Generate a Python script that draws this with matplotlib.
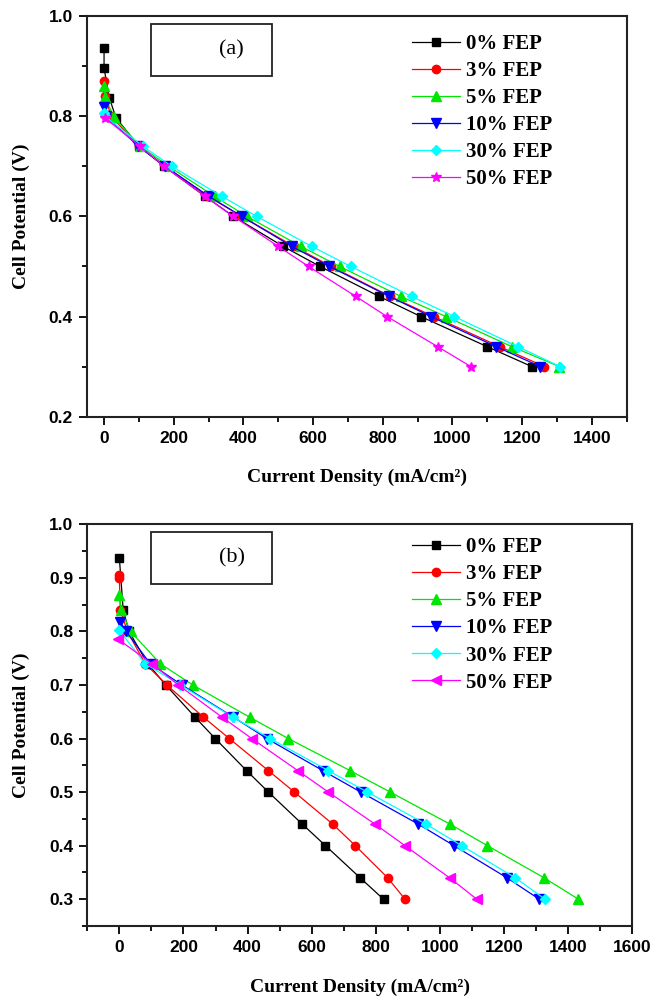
import matplotlib
matplotlib.use("Agg")
import matplotlib.pyplot as plt
from matplotlib.patches import Rectangle
from matplotlib.ticker import MultipleLocator

# legend text, colours and markers shared by both panels
labels = ["0% FEP", "3% FEP", "5% FEP", "10% FEP", "30% FEP", "50% FEP"]
colors = ["#000000", "#ff0000", "#00e600", "#0000ff", "#00ffff", "#ff00ff"]
markers_a = ["s", "o", "^", "v", "D", "*"]
markers_b = ["s", "o", "^", "v", "D", "<"]

# ---- panel (a): current density (mA/cm2) and cell potential (V)
a_i_0 = [0, 0, 15, 34, 100, 172, 290, 371, 514, 620, 790, 909, 1099, 1228]
a_v_0 = [0.936, 0.896, 0.837, 0.797, 0.74, 0.70, 0.64, 0.60, 0.54, 0.50, 0.44, 0.40, 0.34, 0.30]
a_i_3 = [0, 3, 20, 100, 175, 298, 395, 545, 652, 822, 946, 1135, 1264]
a_v_3 = [0.87, 0.84, 0.80, 0.74, 0.70, 0.64, 0.60, 0.54, 0.50, 0.44, 0.40, 0.34, 0.30]
a_i_5 = [0, 3, 28, 104, 185, 317, 410, 565, 676, 852, 981, 1170, 1307]
a_v_5 = [0.86, 0.838, 0.798, 0.74, 0.70, 0.64, 0.60, 0.54, 0.50, 0.44, 0.40, 0.34, 0.30]
a_i_10 = [0, 5, 98, 175, 301, 395, 539, 647, 819, 938, 1125, 1252]
a_v_10 = [0.818, 0.80, 0.74, 0.70, 0.64, 0.60, 0.54, 0.50, 0.44, 0.40, 0.34, 0.30]
a_i_30 = [0, 3, 111, 194, 338, 438, 596, 708, 883, 1005, 1187, 1309]
a_v_30 = [0.806, 0.80, 0.74, 0.70, 0.64, 0.60, 0.54, 0.50, 0.44, 0.40, 0.34, 0.30]
a_i_50 = [3, 103, 172, 290, 371, 500, 587, 723, 812, 957, 1053]
a_v_50 = [0.796, 0.74, 0.70, 0.64, 0.60, 0.54, 0.50, 0.44, 0.40, 0.34, 0.30]

# ---- panel (b)
b_i_0 = [0, 12, 30, 88, 145, 236, 299, 397, 465, 571, 643, 751, 824]
b_v_0 = [0.937, 0.84, 0.80, 0.74, 0.70, 0.64, 0.60, 0.54, 0.50, 0.44, 0.40, 0.34, 0.30]
b_i_3 = [0, 0, 3, 25, 80, 148, 262, 343, 465, 546, 666, 736, 837, 891]
b_v_3 = [0.905, 0.90, 0.84, 0.80, 0.74, 0.70, 0.64, 0.60, 0.54, 0.50, 0.44, 0.40, 0.34, 0.30]
b_i_5 = [0, 5, 35, 127, 229, 406, 527, 720, 845, 1032, 1148, 1325, 1432]
b_v_5 = [0.868, 0.84, 0.80, 0.74, 0.70, 0.64, 0.60, 0.54, 0.50, 0.44, 0.40, 0.34, 0.30]
b_i_10 = [2, 21, 96, 195, 356, 460, 635, 753, 933, 1044, 1209, 1310]
b_v_10 = [0.818, 0.80, 0.74, 0.70, 0.64, 0.60, 0.54, 0.50, 0.44, 0.40, 0.34, 0.30]
b_i_30 = [0, 80, 190, 354, 470, 652, 774, 957, 1068, 1235, 1328]
b_v_30 = [0.802, 0.74, 0.70, 0.64, 0.60, 0.54, 0.50, 0.44, 0.40, 0.34, 0.30]
b_i_50 = [-3, 101, 184, 320, 413, 557, 652, 798, 891, 1030, 1115]
b_v_50 = [0.785, 0.74, 0.70, 0.64, 0.60, 0.54, 0.50, 0.44, 0.40, 0.34, 0.30]

serif = "Liberation Serif"
sans = "Liberation Sans"


# draw one panel with its six curves
def painel(ax, currents, volts, markers):
    for i in range(len(labels)):
        ms = 6
        if markers[i] in ["^", "v", "<", "*"]:
            ms = 7.5
        if markers[i] == "D":
            ms = 5.5
        ax.plot(currents[i], volts[i], color=colors[i], marker=markers[i],
                markersize=ms, linewidth=0.9, label=labels[i])
    for s in ax.spines.values():
        s.set_linewidth(1.5)
        s.set_color("#222222")
    ax.tick_params(which="both", direction="out", width=1.3, top=False, right=False)
    ax.tick_params(which="major", length=6, pad=4)
    ax.tick_params(which="minor", length=3.5)
    for t in ax.get_xticklabels() + ax.get_yticklabels():
        t.set_fontfamily(sans)
        t.set_fontweight("bold")
        t.set_fontsize(12.5)
    ax.set_xlabel("Current Density (mA/cm²)", family=serif, weight="bold", fontsize=14)
    ax.set_ylabel("Cell Potential (V)", family=serif, weight="bold", fontsize=14)
    ax.xaxis.set_label_coords(0.5, -0.13)
    ax.yaxis.set_label_coords(-0.105, 0.5)


fig = plt.figure(figsize=(6.7, 10), dpi=100)

# panel (a)
ax1 = fig.add_axes([0.1293, 0.5833, 0.8061, 0.4007])
ax1.set_xlim(-50, 1500)
ax1.set_ylim(0.2, 1.0)
ax1.xaxis.set_major_locator(MultipleLocator(200))
ax1.xaxis.set_minor_locator(MultipleLocator(100))
ax1.yaxis.set_major_locator(MultipleLocator(0.2))
ax1.yaxis.set_minor_locator(MultipleLocator(0.1))
painel(ax1,
       [a_i_0, a_i_3, a_i_5, a_i_10, a_i_30, a_i_50],
       [a_v_0, a_v_3, a_v_5, a_v_10, a_v_30, a_v_50],
       markers_a)

# panel (b)
ax2 = fig.add_axes([0.1303, 0.074, 0.8134, 0.4017])
ax2.set_xlim(-100, 1600)
ax2.set_ylim(0.25, 1.0)
ax2.xaxis.set_major_locator(MultipleLocator(200))
ax2.xaxis.set_minor_locator(MultipleLocator(100))
ax2.yaxis.set_major_locator(MultipleLocator(0.1))
ax2.yaxis.set_minor_locator(MultipleLocator(0.05))
painel(ax2,
       [b_i_0, b_i_3, b_i_5, b_i_10, b_i_30, b_i_50],
       [b_v_0, b_v_3, b_v_5, b_v_10, b_v_30, b_v_50],
       markers_b)

# legends
for ax, y0 in [(ax1, 0.966), (ax2, 0.4628)]:
    ax.legend(loc="upper left", bbox_to_anchor=(0.615, y0), bbox_transform=fig.transFigure,
              frameon=False, borderpad=0, borderaxespad=0, handlelength=2.3,
              handletextpad=0.3, labelspacing=0.34,
              prop={"family": serif, "weight": "bold", "size": 15})

# boxes with the panel letter
for y0, txt in [(0.924, "(a)"), (0.416, "(b)")]:
    fig.add_artist(Rectangle((0.225, y0), 0.1806, 0.052, transform=fig.transFigure,
                             fill=False, edgecolor="#222222", linewidth=1.3))
    fig.text(0.346, y0 + 0.026, txt, family=serif, fontsize=16, ha="center", va="center")

fig.savefig("out.png", dpi=100)
